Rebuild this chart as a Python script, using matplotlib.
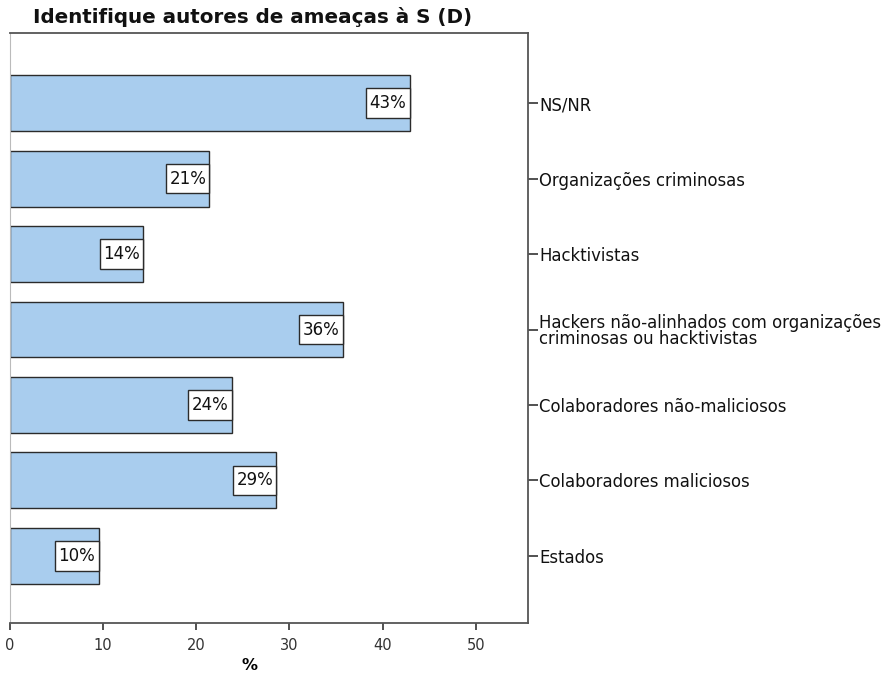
# Identifique autores de ameaças à S (D) - horizontal bar chart

import matplotlib
matplotlib.use('Agg')
import matplotlib.pyplot as plt

plt.rcParams['font.family'] = ['DejaVu Sans']

# Data (top to bottom as shown)
categories = ['NS/NR',
              'Organizações criminosas',
              'Hacktivistas',
              'Hackers não-alinhados com organizações\ncriminosas ou hacktivistas',
              'Colaboradores não-maliciosos',
              'Colaboradores maliciosos',
              'Estados']
values = [42.9, 21.4, 14.3, 35.7, 23.8, 28.6, 9.5]
bar_labels = ['43%', '21%', '14%', '36%', '24%', '29%', '10%']
xticks = [0, 10, 20, 30, 40, 50]

W, H = 892, 693
fig = plt.figure(figsize=(W/100, H/100), dpi=100, facecolor='white')
ax = fig.add_axes([10/W, (H-623)/H, (528-10)/W, (623-33)/H])

n = len(categories)
ypos = list(range(n-1, -1, -1))
ax.barh(ypos, values, height=0.74, color='#a9cdee',
        edgecolor='#2b2b2b', linewidth=1.0, zorder=2)

# white label boxes sitting at the end of each bar
box_w = 4.65
box_lefts = [v - box_w for v in values]
ax.barh(ypos, [box_w]*n, left=box_lefts, height=0.39, color='white',
        edgecolor='#2b2b2b', linewidth=1.0, zorder=3)
for y, v, lab in zip(ypos, values, bar_labels):
    ax.text(v - box_w/2, y, lab, ha='center', va='center',
            fontsize=12, color='#111111', zorder=4)

ax.set_xlim(0, 55.6)
ax.set_ylim(-0.89, n-1+0.93)
ax.set_xticks(xticks)
ax.set_xticklabels([str(t) for t in xticks], fontsize=10.5, color='#333333')
ax.set_yticks(ypos)
ax.set_yticklabels(categories, fontsize=11.9, color='#111111',
                   linespacing=0.92)
ax.yaxis.tick_right()
ax.tick_params(axis='y', direction='out', length=7, width=1.2, pad=1,
               color='#333333')
ax.tick_params(axis='x', direction='out', length=5, width=1.2, pad=6,
               color='#333333')
for s in ax.spines.values():
    s.set_color('#555555')
    s.set_linewidth(1.3)
ax.spines['left'].set_color('#bbbbbb')
ax.spines['left'].set_linewidth(0.8)

ax.set_xlabel('%', fontsize=11.5, fontweight='bold')
ax.xaxis.set_label_coords((250-10)/(528-10), -(666-623)/(623-33))
ax.xaxis.label.set_va('center')

fig.text(253/W, 1-23/H, 'Identifique autores de ameaças à S (D)',
         ha='center', va='baseline', fontsize=14.3, fontweight='bold',
         color='#111111')

fig.savefig('out.png', dpi=100, facecolor='white')
